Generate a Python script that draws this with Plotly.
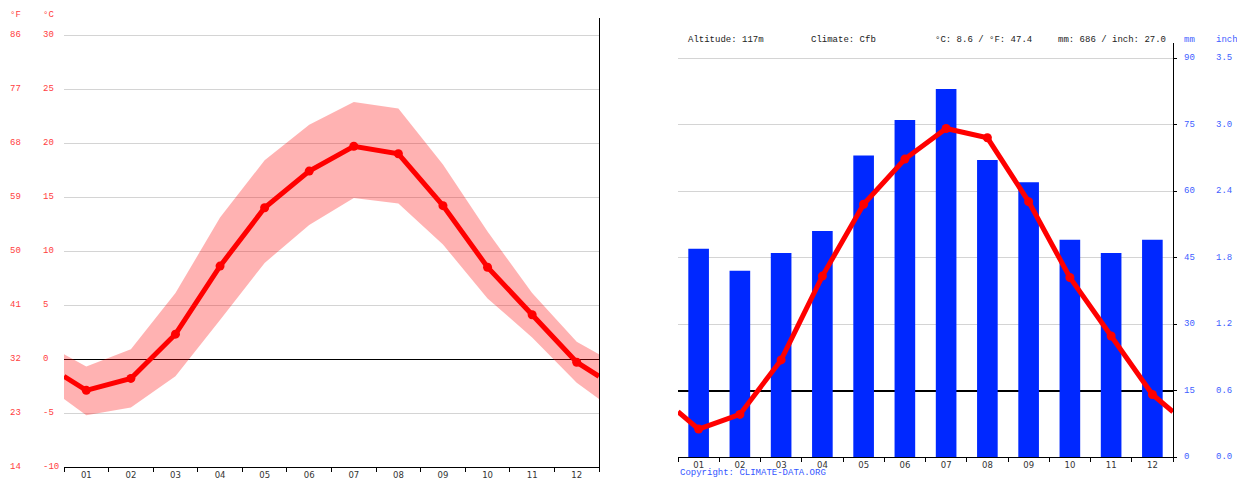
import plotly.graph_objects as go

# ---------------- data ----------------
months = ["01", "02", "03", "04", "05", "06", "07", "08", "09", "10", "11", "12"]
temp_mean = [-2.9, -1.8, 2.3, 8.6, 14.0, 17.4, 19.7, 19.0, 14.2, 8.5, 4.1, -0.3]
temp_max = [-0.7, 0.9, 6.1, 13.1, 18.4, 21.7, 23.8, 23.2, 18.0, 11.8, 6.1, 1.6]
temp_min = [-5.2, -4.5, -1.6, 3.6, 8.9, 12.4, 14.9, 14.4, 10.6, 5.6, 2.0, -2.2]
precip_mm = [47, 42, 46, 51, 68, 76, 83, 67, 62, 49, 46, 49]

c_ticks = [-10, -5, 0, 5, 10, 15, 20, 25, 30]
f_labels = ["14", "23", "32", "41", "50", "59", "68", "77", "86"]
mm_ticks = [0, 15, 30, 45, 60, 75, 90]
inch_labels = ["0.0", "0.6", "1.2", "1.8", "2.4", "3.0", "3.5"]
header_texts = ["Altitude: 117m", "Climate: Cfb", "°C: 8.6 / °F: 47.4", "mm: 686 / inch: 27.0"]
copyright_text = "Copyright: CLIMATE-DATA.ORG"

# ---------------- helpers ----------------
W, H = 1237, 480
FONT = "Liberation Mono"
TICKFONT = "DejaVu Sans"
RED_TXT = "#ff4040"
BLUE_TXT = "#4060ff"
GRID = "#d4d4d4"
FS = 9


def px(x):
    return x / W


def py(y):
    return 1 - y / H


month_x = list(range(1, 13))


def wrap(vals):
    edge = (vals[0] + vals[-1]) / 2
    return [0.5] + month_x + [12.5], [edge] + list(vals) + [edge]


fig = go.Figure()

# ---- left chart: temperature band and mean line ----
bx, bmin = wrap(temp_min)
_, bmax = wrap(temp_max)
lx, ly = wrap(temp_mean)
fig.add_trace(go.Scatter(x=bx, y=bmin, mode="lines", line=dict(width=0),
                         hoverinfo="skip", showlegend=False, xaxis="x", yaxis="y"))
fig.add_trace(go.Scatter(x=bx, y=bmax, mode="lines", line=dict(width=0),
                         fill="tonexty", fillcolor="rgba(255,0,0,0.30)",
                         hoverinfo="skip", showlegend=False, xaxis="x", yaxis="y"))
fig.add_trace(go.Scatter(x=lx, y=ly, mode="lines", line=dict(color="#ff0000", width=5),
                         showlegend=False, xaxis="x", yaxis="y"))
fig.add_trace(go.Scatter(x=month_x, y=temp_mean, mode="markers",
                         marker=dict(color="#ff0000", size=9, line=dict(width=0, color="#ff0000")),
                         showlegend=False, xaxis="x", yaxis="y"))

# ---- right chart: precipitation bars + temperature line ----
fig.add_trace(go.Bar(x=month_x, y=precip_mm, width=0.5,
                     marker=dict(color="#0028ff", line=dict(width=0)),
                     showlegend=False, xaxis="x2", yaxis="y2"))
fig.add_trace(go.Scatter(x=lx, y=ly, mode="lines", line=dict(color="#ff0000", width=5),
                         showlegend=False, xaxis="x2", yaxis="y3"))
fig.add_trace(go.Scatter(x=month_x, y=temp_mean, mode="markers",
                         marker=dict(color="#ff0000", size=9, line=dict(width=0, color="#ff0000")),
                         showlegend=False, xaxis="x2", yaxis="y3"))

# axis geometry (screen pixels)
L_x0, L_x1, L_y0, L_y1 = 64, 599, 467, 18
R_x0, R_x1, R_y0, R_y1 = 678, 1173, 457, 43
c_per_px = 40 / (467 - 35)
left_top = 30 + (35 - L_y1) * c_per_px
mm_per_px = 90 / (457 - 58)
right_top = 90 + (58 - R_y1) * mm_per_px
t_bottom = (0 - 15) / 3
t_top = (right_top - 15) / 3

xaxis_common = dict(
    range=[0.5, 12.5], tickvals=month_x, ticktext=months, ticks="",
    showline=True, linecolor="black", linewidth=1, showgrid=False, zeroline=False,
    tickfont=dict(family=TICKFONT, size=8.5, color="#333333"),
    minor=dict(tick0=0.5, dtick=1, ticks="outside", ticklen=4, tickcolor="black", showgrid=False),
    fixedrange=True,
)

fig.update_layout(
    width=W, height=H,
    margin=dict(l=0, r=0, t=0, b=0),
    paper_bgcolor="white", plot_bgcolor="white",
    showlegend=False,
    hovermode=False,
    xaxis=dict(domain=[px(L_x0), px(L_x1)], anchor="y", **xaxis_common),
    yaxis=dict(domain=[py(L_y0), py(L_y1)], anchor="x", range=[-10, left_top],
               side="right", showline=True, linecolor="black", linewidth=1,
               tickvals=c_ticks, showticklabels=False, ticks="",
               showgrid=True, gridcolor=GRID, gridwidth=1,
               zeroline=True, zerolinecolor="black", zerolinewidth=1, fixedrange=True),
    xaxis2=dict(domain=[px(R_x0), px(R_x1)], anchor="y2", **xaxis_common),
    yaxis2=dict(domain=[py(R_y0), py(R_y1)], anchor="x2", range=[0, right_top],
                side="right", showline=True, linecolor="black", linewidth=1,
                tickvals=mm_ticks, showticklabels=False, ticks="outside", ticklen=3,
                tickcolor="black", showgrid=True, gridcolor=GRID, gridwidth=1,
                zeroline=False, fixedrange=True),
    yaxis3=dict(overlaying="y2", anchor="x2", range=[t_bottom, t_top],
                showline=False, showticklabels=False, ticks="", showgrid=False,
                zeroline=True, zerolinecolor="black", zerolinewidth=1.5, fixedrange=True),
)

ann = []


def add_text(x, y, text, color, yref="paper", family=FONT, size=FS, anchor="middle"):
    ann.append(dict(x=px(x), y=y if yref != "paper" else py(y), xref="paper", yref=yref,
                    text=text, showarrow=False, xanchor="left", yanchor=anchor,
                    font=dict(family=family, size=size, color=color)))


# left tick labels
for c, f in zip(c_ticks, f_labels):
    add_text(8, c, f, RED_TXT, yref="y")
    add_text(41, c, str(c), RED_TXT, yref="y")
add_text(8, 15, "°F", RED_TXT)
add_text(41, 15, "°C", RED_TXT)
# right tick labels
for m, inch in zip(mm_ticks, inch_labels):
    add_text(1182, m, str(m), BLUE_TXT, yref="y2")
    add_text(1214, m, inch, BLUE_TXT, yref="y2")
add_text(1182, 40, "mm", BLUE_TXT)
add_text(1214, 40, "inch", BLUE_TXT)
# header
for xpos, t in zip([686, 809, 933, 1056], header_texts):
    add_text(xpos, 40, t, "#222222")
add_text(678, 480, copyright_text, "#3355ff", anchor="bottom")

fig.update_layout(annotations=ann)

fig.write_html(
    "out.html",
    config={"displayModeBar": False},
    post_script="document.body.style.margin='0';document.body.style.overflow='hidden';",
)
